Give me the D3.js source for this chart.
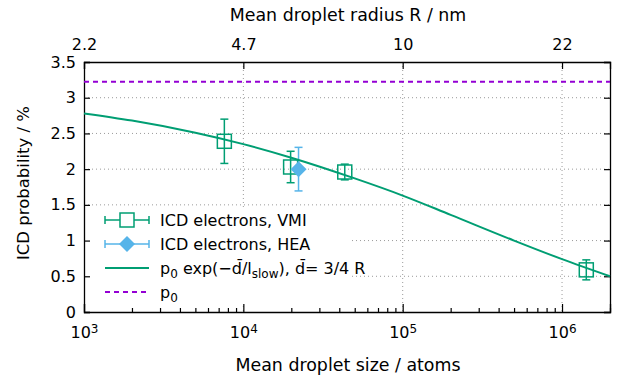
<!DOCTYPE html>
<html><head><meta charset="utf-8">
<script src="https://cdn.jsdelivr.net/npm/d3@7"></script>
<style>
body{margin:0;background:#fff;}
text{font-family:"DejaVu Sans",sans-serif;fill:#000;}
</style></head>
<body><svg id="c" width="619" height="379"></svg>
<script>
// ---- data ----
const xDomain = [1e3, 2e6];
const yDomain = [0, 3.5];
const xMajorTicks = [1e3, 1e4, 1e5, 1e6];
const xExponents = ["3", "4", "5", "6"];
const topTickLabels = ["2.2", "4.7", "10", "22"];
const yTicks = [0, 0.5, 1, 1.5, 2, 2.5, 3, 3.5];
const gridY = [0.5, 1, 1.5, 2, 2.5, 3];
const gridX = [1e4, 1e5, 1e6];

const vmiN = [7600, 19800, 43300, 1.42e6];
const vmiP = [2.39, 2.03, 1.96, 0.59];
const vmiErr = [0.31, 0.22, 0.11, 0.14];

const heaN = [22200];
const heaP = [2.00];
const heaErr = [0.305];

const fitN = [1e3, 2e3, 5e3, 1e4, 2e4, 5e4, 1e5, 2e5, 5e5, 1e6, 2e6];
const fitP = [2.78, 2.68, 2.51, 2.35, 2.16, 1.87, 1.63, 1.36, 1.00, 0.74, 0.50];

const p0Value = 3.225;

const legendLabels = ["ICD electrons, VMI", "ICD electrons, HEA"];

// ---- drawing ----
const green = "#009e73", blue = "#56b4e9", purple = "#9400d3";
const L = 84, R = 610, T = 62, B = 312;
const svg = d3.select("#c");
const x = d3.scaleLog().domain(xDomain).range([L, R]);
const y = d3.scaleLinear().domain(yDomain).range([B, T]);

// grid
const grid = svg.append("g").attr("stroke", "#9a9a9a").attr("stroke-width", 1).attr("stroke-dasharray", "1,3");
grid.selectAll("line.gy").data(gridY).enter().append("line")
  .attr("x1", L).attr("x2", R).attr("y1", d => y(d)).attr("y2", d => y(d));
grid.selectAll("line.gx").data(gridX).enter().append("line")
  .attr("x1", d => x(d)).attr("x2", d => x(d)).attr("y1", T).attr("y2", B);

// minor x ticks
const minors = [];
for (let e = 3; e <= 6; e++) for (let m = 2; m <= 9; m++) { const v = m * Math.pow(10, e); if (v <= xDomain[1]) minors.push(v); }

// legend background (covers grid)
svg.append("rect").attr("x", L + 1).attr("y", 207).attr("width", 265).attr("height", 97).attr("fill", "#fff");

// axes
const axB = svg.append("g").attr("transform", `translate(0,${B})`)
  .call(d3.axisBottom(x).tickValues(xMajorTicks).tickSize(-8).tickPadding(15).tickFormat(() => ""));
axB.selectAll(".tick text").each(function(d, i) {
  const t = d3.select(this).attr("font-size", 16).attr("font-family", "DejaVu Sans");
  t.append("tspan").text("10");
  t.append("tspan").attr("dy", "-0.45em").attr("font-size", 12).text(xExponents[i]);
});
svg.append("g").attr("transform", `translate(0,${B})`)
  .call(d3.axisBottom(x).tickValues(minors).tickSize(-4).tickFormat(""))
  .select(".domain").remove();
svg.append("g").attr("transform", `translate(0,${T})`)
  .call(d3.axisTop(x).tickValues(xMajorTicks).tickSize(-7).tickPadding(12).tickFormat((d, i) => topTickLabels[i]));
svg.append("g").attr("transform", `translate(${L},0)`)
  .call(d3.axisLeft(y).tickValues(yTicks).tickSize(-6).tickPadding(8).tickFormat(d3.format("")));
svg.append("g").attr("transform", `translate(${R},0)`)
  .call(d3.axisRight(y).tickValues(yTicks).tickSize(-6).tickFormat(""));
svg.selectAll(".tick text").attr("font-size", 16).attr("font-family", "DejaVu Sans");
svg.selectAll(".domain").attr("stroke-width", 1.3);
svg.selectAll(".tick line").attr("stroke-width", 1.2);

// titles
svg.append("text").attr("x", 348).attr("y", 21).attr("text-anchor", "middle").attr("font-size", 17.4).text("Mean droplet radius R / nm");
svg.append("text").attr("x", 348).attr("y", 371).attr("text-anchor", "middle").attr("font-size", 17.4).text("Mean droplet size / atoms");
svg.append("text").attr("transform", "translate(29,183) rotate(-90)").attr("text-anchor", "middle").attr("font-size", 16.5).text("ICD probability / %");

// error bar helper
function errBar(g, cx, cy1, cy2, color) {
  g.append("line").attr("x1", cx).attr("x2", cx).attr("y1", cy1).attr("y2", cy2).attr("stroke", color).attr("stroke-width", 1.5);
  [cy1, cy2].forEach(v => g.append("line").attr("x1", cx - 4).attr("x2", cx + 4).attr("y1", v).attr("y2", v).attr("stroke", color).attr("stroke-width", 1.5));
}
const pts = svg.append("g");
vmiN.forEach((n, i) => {
  errBar(pts, x(n), y(vmiP[i] + vmiErr[i]), y(vmiP[i] - vmiErr[i]), green);
  pts.append("rect").attr("x", x(n) - 7).attr("y", y(vmiP[i]) - 7).attr("width", 14).attr("height", 14)
    .attr("fill", "#fff").attr("fill-opacity", 0).attr("stroke", green).attr("stroke-width", 1.5);
});
heaN.forEach((n, i) => {
  errBar(pts, x(n), y(heaP[i] + heaErr[i]), y(heaP[i] - heaErr[i]), blue);
  const cx = x(n), cy = y(heaP[i]);
  pts.append("path").attr("d", `M${cx},${cy - 8}L${cx + 8},${cy}L${cx},${cy + 8}L${cx - 8},${cy}Z`).attr("fill", blue);
});

// fit & p0 lines
const line = d3.line().x((d, i) => x(fitN[i])).y((d, i) => y(fitP[i])).curve(d3.curveMonotoneX);
svg.append("path").attr("d", line(fitP)).attr("fill", "none").attr("stroke", green).attr("stroke-width", 2);
svg.append("line").attr("x1", L).attr("x2", R).attr("y1", y(p0Value)).attr("y2", y(p0Value))
  .attr("stroke", purple).attr("stroke-width", 2).attr("stroke-dasharray", "5,4");

// legend
const lg = svg.append("g");
const rows = [220, 244, 268, 292];
const sx1 = 105, sx2 = 149, sc = 127, tx = 160;
function hErr(cy, color) {
  lg.append("line").attr("x1", sx1).attr("x2", sx2).attr("y1", cy).attr("y2", cy).attr("stroke", color).attr("stroke-width", 1.5);
  [sx1, sx2].forEach(v => lg.append("line").attr("x1", v).attr("x2", v).attr("y1", cy - 4).attr("y2", cy + 4).attr("stroke", color).attr("stroke-width", 1.5));
}
hErr(rows[0], green);
lg.append("rect").attr("x", sc - 7).attr("y", rows[0] - 7).attr("width", 14).attr("height", 14).attr("fill", "#fff").attr("stroke", green).attr("stroke-width", 1.5);
hErr(rows[1], blue);
lg.append("path").attr("d", `M${sc},${rows[1] - 8}L${sc + 8},${rows[1]}L${sc},${rows[1] + 8}L${sc - 8},${rows[1]}Z`).attr("fill", blue);
lg.append("line").attr("x1", sx1).attr("x2", sx2).attr("y1", rows[2]).attr("y2", rows[2]).attr("stroke", green).attr("stroke-width", 2);
lg.append("line").attr("x1", sx1).attr("x2", sx2).attr("y1", rows[3]).attr("y2", rows[3]).attr("stroke", purple).attr("stroke-width", 2).attr("stroke-dasharray", "5,4");

legendLabels.forEach((s, i) => lg.append("text").attr("x", tx).attr("y", rows[i] + 6).attr("font-size", 16).text(s));
const t3 = lg.append("text").attr("x", tx).attr("y", rows[2] + 6).attr("font-size", 16);
t3.append("tspan").text("p");
t3.append("tspan").attr("dy", 4).attr("font-size", 12).text("0");
t3.append("tspan").attr("dy", -4).text(" exp(\u2212d\u0304/l");
t3.append("tspan").attr("dy", 4).attr("font-size", 12).text("slow");
t3.append("tspan").attr("dy", -4).text("), d\u0304= 3/4 R");
const t4 = lg.append("text").attr("x", tx).attr("y", rows[3] + 6).attr("font-size", 16);
t4.append("tspan").text("p");
t4.append("tspan").attr("dy", 4).attr("font-size", 12).text("0");
</script></body></html>
